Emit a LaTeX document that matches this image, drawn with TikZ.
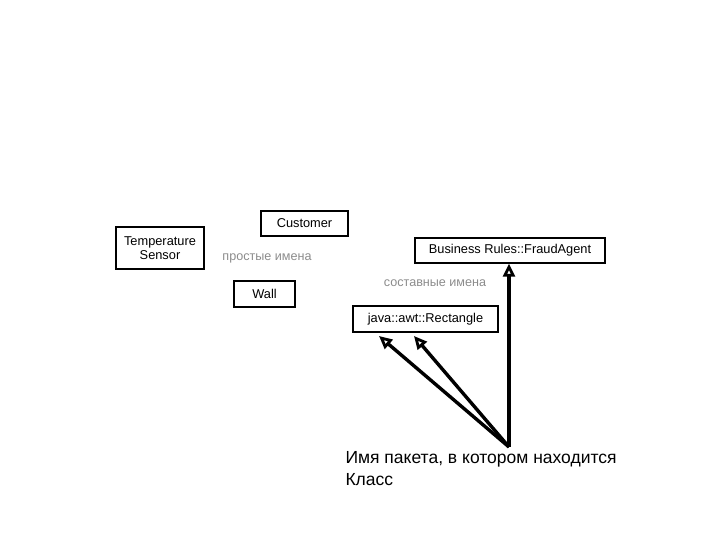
\documentclass[tikz,border=0pt]{standalone}
\usepackage{fontspec}
\setmainfont{Liberation Sans}
\usetikzlibrary{positioning, arrows.meta}

\begin{document}
\begin{tikzpicture}[x=1pt,y=-1pt,
  cls/.style={draw, line width=1.4pt, inner sep=0pt, align=center,
    font=\fontsize{12.8}{15}\selectfont},
  note/.style={text=black!45, font=\fontsize{12.6}{15}\selectfont},
  pkg/.style={line width=3.4pt,
    -{Triangle[open, length=13pt, width=12pt, line width=2.8pt]}}]
\useasboundingbox (0,0) rectangle (720,540);
% simple names
\node[cls, minimum width=88pt, minimum height=42pt] (TS) at (160,248) {Temperature\\[-1pt]Sensor};
\node[cls, minimum width=87pt, minimum height=25pt] (Cust) at (304.5,223.5) {Customer};
\node[cls, minimum width=61pt, minimum height=26pt] (Wall) at (264.5,294) {Wall};
\node[note] (simple) at (267,258) {простые имена};
% qualified names
\node[cls, minimum width=190pt, minimum height=25pt] (FA) at (510,250.5) {Business Rules::FraudAgent};
\node[cls, minimum width=145pt, minimum height=26pt] (Rect) at (425.5,319) {java::awt::Rectangle};
\node[note] (qual) at (435,283) {составные имена};
% package pointers
\coordinate (src) at (509,447);
\coordinate (r1) at (379,336);
\coordinate (r2) at (414,336);
\draw[pkg] (src) -- (src |- FA.south);
\draw[pkg] (src) -- (r1);
\draw[pkg] (src) -- (r2);
\node[anchor=base west, align=left, font=\fontsize{17.5}{22}\selectfont] (lbl) at (342,485)
  {Имя пакета, в котором находится\\Класс};
\end{tikzpicture}
\end{document}
